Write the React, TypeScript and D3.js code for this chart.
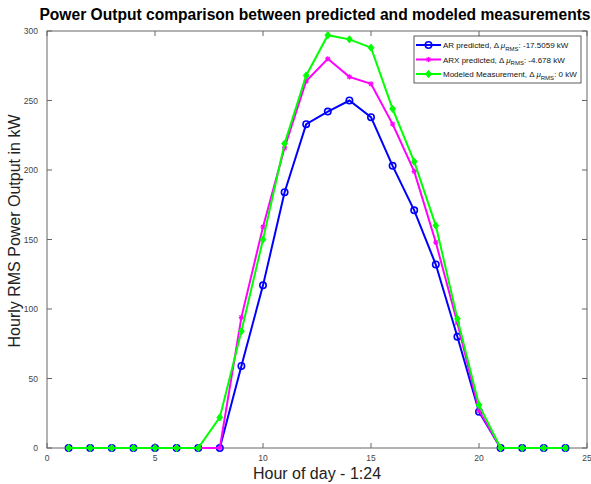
import React from "react";
import * as d3 from "d3";

const hours = d3.range(1, 25);
const arPredicted = [0, 0, 0, 0, 0, 0, 0, 0, 59, 117, 184, 233, 242, 250, 238, 203, 171, 132, 80, 26, 0, 0, 0, 0];
const arxPredicted = [0, 0, 0, 0, 0, 0, 0, 0, 94, 159, 216, 264, 280, 267, 262, 233, 199, 148, 90, 27, 0, 0, 0, 0];
const modeled = [0, 0, 0, 0, 0, 0, 0, 22, 84, 150, 219, 268, 297, 294, 288, 244, 206, 160, 93, 31, 0, 0, 0, 0];
const xTicks = [0, 5, 10, 15, 20, 25];
const yTicks = [0, 50, 100, 150, 200, 250, 300];
const seriesNames = ["AR predicted, ", "ARX predicted, ", "Modeled Measurement, "];
const seriesDeltas = [": -17.5059 kW", ": -4.678 kW", ": 0 kW"];

const W = 591, H = 484;
const L = 47, R = 587, T = 31, B = 448;

export default function App() {
  const x = d3.scaleLinear().domain([0, 25]).range([L, R]);
  const y = d3.scaleLinear().domain([0, 300]).range([B, T]);
  const line = d3.line<number>().x((_, i) => x(hours[i])).y((d) => y(d));
  const axisColor = "#666";
  const font = "Liberation Sans, Arial, Helvetica, sans-serif";

  const series = [
    { data: arPredicted, color: "#0000ff", marker: "o" },
    { data: arxPredicted, color: "#ff00ff", marker: "*" },
    { data: modeled, color: "#00ff00", marker: "d" },
  ];

  const drawMarker = (m: string, cx: number, cy: number, color: string, key: any) => {
    if (m === "o") return <circle key={key} cx={cx} cy={cy} r={3.2} fill="none" stroke={color} strokeWidth={1.6} />;
    if (m === "*") {
      const s = 2.6;
      return (
        <g key={key} stroke={color} strokeWidth={1.2}>
          <line x1={cx - s} y1={cy} x2={cx + s} y2={cy} />
          <line x1={cx} y1={cy - s} x2={cx} y2={cy + s} />
          <line x1={cx - s * 0.75} y1={cy - s * 0.75} x2={cx + s * 0.75} y2={cy + s * 0.75} />
          <line x1={cx - s * 0.75} y1={cy + s * 0.75} x2={cx + s * 0.75} y2={cy - s * 0.75} />
        </g>
      );
    }
    const s = 3.6;
    return <path key={key} d={`M${cx},${cy - s}L${cx + s * 0.8},${cy}L${cx},${cy + s}L${cx - s * 0.8},${cy}Z`} fill={color} stroke={color} strokeWidth={1} />;
  };

  const legX = 414, legY = 36, legW = 167, legH = 47;

  return (
    <svg width={W} height={H} style={{ position: "absolute", left: 0, top: 0, background: "#fff" }} fontFamily={font}>
      <rect x={0} y={0} width={W} height={H} fill="#fff" />
      <rect x={L} y={T} width={R - L} height={B - T} fill="#fff" stroke={axisColor} strokeWidth={1} />
      {xTicks.map((t) => (
        <g key={"xt" + t}>
          <line x1={x(t)} x2={x(t)} y1={B} y2={B - 5} stroke={axisColor} />
          <line x1={x(t)} x2={x(t)} y1={T} y2={T + 5} stroke={axisColor} />
          <text x={x(t)} y={B + 13} fontSize={8.5} fill="#444" textAnchor="middle">{t}</text>
        </g>
      ))}
      {yTicks.map((t) => (
        <g key={"yt" + t}>
          <line x1={L} x2={L + 5} y1={y(t)} y2={y(t)} stroke={axisColor} />
          <line x1={R} x2={R - 5} y1={y(t)} y2={y(t)} stroke={axisColor} />
          <text x={L - 9} y={y(t) + 3} fontSize={8.5} fill="#444" textAnchor="end">{t}</text>
        </g>
      ))}
      {series.map((s, si) => (
        <g key={"s" + si}>
          <path d={line(s.data) || ""} fill="none" stroke={s.color} strokeWidth={2} />
          {s.data.map((v, i) => drawMarker(s.marker, x(hours[i]), y(v), s.color, i))}
        </g>
      ))}
      <rect x={legX} y={legY} width={legW} height={legH} fill="#fff" stroke="#333" strokeWidth={0.8} />
      {series.map((s, i) => {
        const ly = legY + 9 + i * 14.5;
        return (
          <g key={"lg" + i}>
            <line x1={legX + 2} x2={legX + 27} y1={ly} y2={ly} stroke={s.color} strokeWidth={2} />
            {drawMarker(s.marker, legX + 14.5, ly, s.color, "m")}
            <text x={legX + 29} y={ly + 3} fontSize={8} fill="#111">
              {seriesNames[i]}Δ <tspan fontStyle="italic">μ</tspan>
              <tspan fontSize={6} dy={2.5}>RMS</tspan>
              <tspan dy={-2.5}>{seriesDeltas[i]}</tspan>
            </text>
          </g>
        );
      })}
      <text x={315} y={20} fontSize={15.6} fontWeight="bold" textAnchor="middle" fill="#000">
        Power Output comparison between predicted and modeled measurements
      </text>
      <text x={317} y={479} fontSize={16} textAnchor="middle" fill="#222">Hour of day - 1:24</text>
      <text transform={`translate(20,231) rotate(-90)`} fontSize={16} textAnchor="middle" fill="#222">
        Hourly RMS Power Output in kW
      </text>
    </svg>
  );
}
